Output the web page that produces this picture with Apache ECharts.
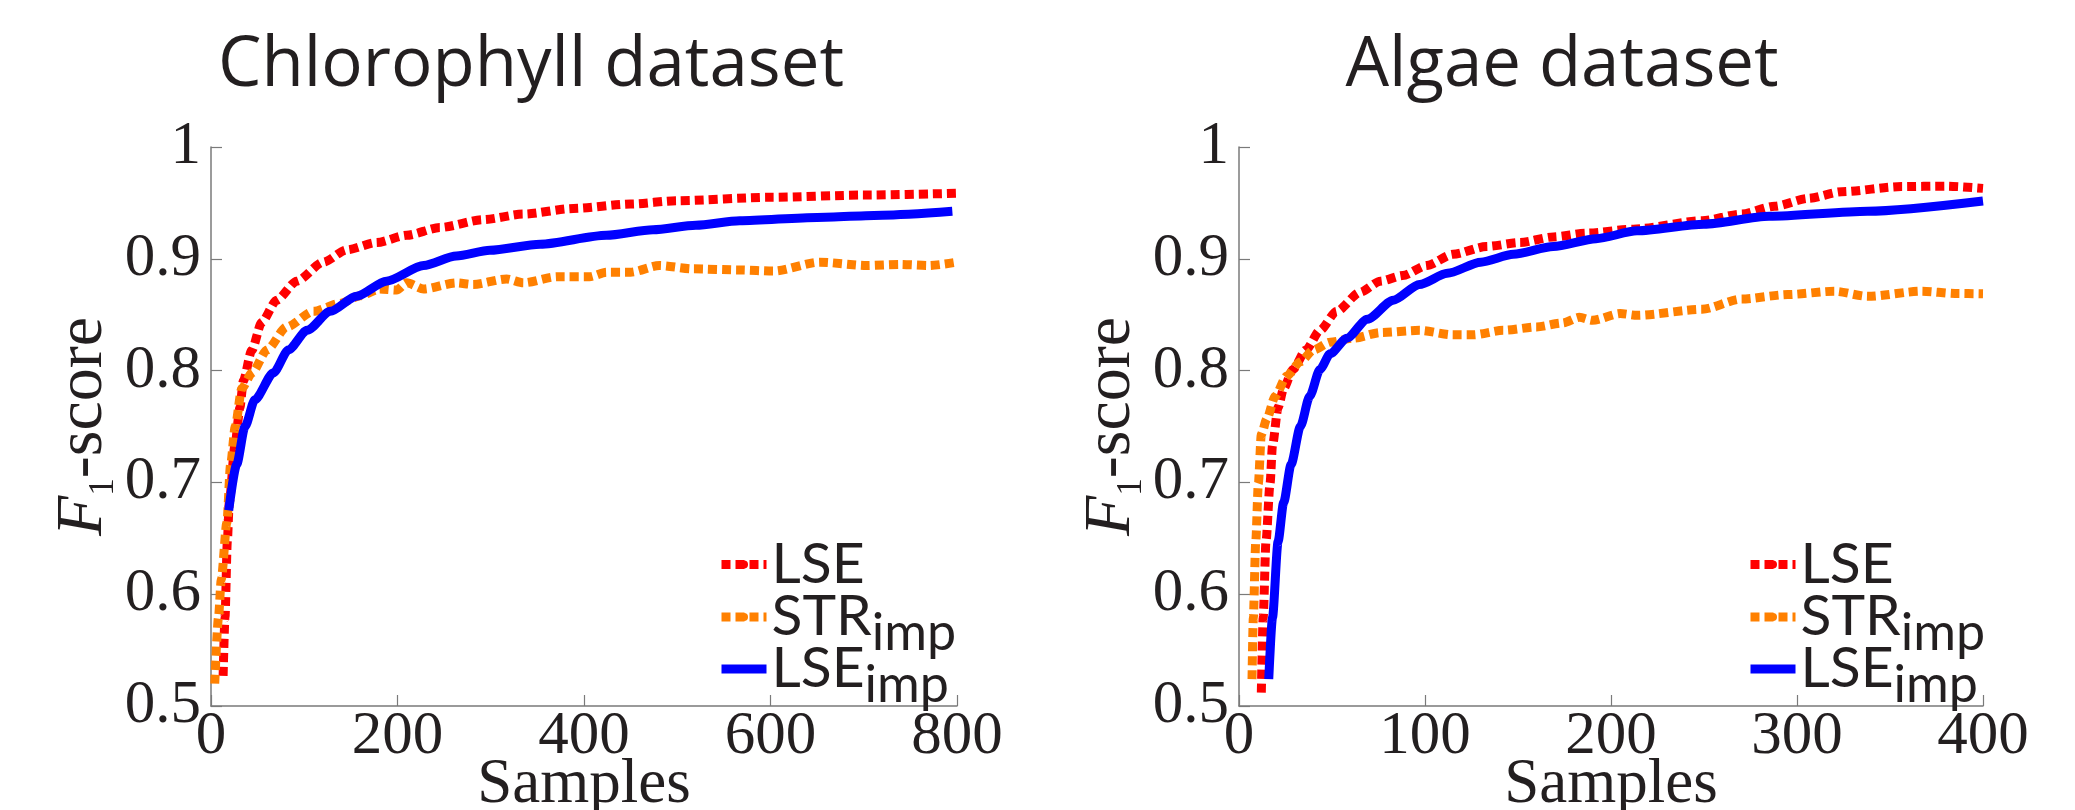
<!DOCTYPE html>
<html>
<head>
<meta charset="utf-8">
<script src="https://cdn.jsdelivr.net/npm/echarts@6/dist/echarts.min.js"></script>
<style>
html,body{margin:0;padding:0;background:#fff;}
#chart{width:2075px;height:810px;}
</style>
</head>
<body>
<div id="chart"></div>
<script>
// ---- Data ----
const titles = ['Chlorophyll dataset', 'Algae dataset'];
const seriesNames = ['LSE', 'STR_imp', 'LSE_imp'];
const yTicks = [0.5, 0.6, 0.7, 0.8, 0.9, 1];
const xTicksChl = [0, 200, 400, 600, 800];
const xTicksAlg = [0, 100, 200, 300, 400];

// Chlorophyll dataset: [samples, F1-score]
const chlLSE = [[13,0.527],[15,0.579],[17.5,0.647],[19.6,0.682],[25.7,0.733],[31,0.767],[34.7,0.791],[43.6,0.818],[54.3,0.843],[70.4,0.863],[91.9,0.880],[120.4,0.897],[145.5,0.908],[177.7,0.9145],[209.8,0.921],[245.6,0.928],[292,0.935],[335,0.940],[388.5,0.945],[450,0.949],[500,0.952],[600,0.955],[700,0.957],[800,0.9586]];
const chlSTR = [[4,0.52],[8,0.579],[11,0.613],[17,0.664],[21,0.716],[26,0.75],[33,0.784],[44,0.798],[60,0.8185],[81,0.839],[110,0.853],[138,0.86],[160,0.867],[181,0.873],[199,0.872],[210,0.8785],[228,0.873],[263,0.8785],[281,0.877],[317,0.882],[335,0.8785],[371,0.884],[406,0.884],[424,0.888],[450,0.888],[481,0.894],[517,0.891],[567,0.890],[603,0.889],[653,0.897],[703,0.894],[739,0.895],[770,0.894],[800,0.897]];
const chlLSEimp = [[19,0.675],[27.5,0.716],[36.5,0.75],[47,0.774],[67,0.798],[83,0.8185],[103,0.836],[128,0.853],[156,0.8665],[188,0.88],[228,0.894],[263,0.9025],[299,0.9076],[353,0.913],[424,0.921],[474,0.926],[520,0.930],[567,0.934],[650,0.937],[720,0.939],[795,0.9425]];

// Algae dataset: [samples, F1-score]
const algLSE = [[12,0.512],[13,0.579],[14.5,0.647],[16.7,0.699],[18,0.733],[21,0.767],[24,0.784],[29,0.801],[36,0.8185],[43.5,0.836],[52.5,0.853],[65,0.87],[76,0.88],[88,0.885],[101,0.894],[115,0.904],[133,0.911],[151,0.9145],[169,0.9196],[187,0.923],[212,0.9265],[249,0.934],[270,0.94],[288,0.947],[306,0.954],[324,0.96],[356,0.9646],[380,0.965],[400,0.963]];
const algSTR = [[7,0.524],[7.7,0.579],[9,0.647],[10.4,0.699],[12,0.743],[15,0.757],[19.4,0.777],[25.6,0.795],[33,0.808],[40,0.8185],[49,0.8254],[61.5,0.829],[76,0.834],[97,0.836],[115,0.832],[126,0.832],[142,0.836],[160,0.839],[174,0.8426],[183,0.8477],[190,0.845],[205,0.851],[214,0.8494],[249,0.8548],[270,0.864],[295,0.868],[320,0.871],[338,0.8664],[367,0.871],[385,0.869],[400,0.8687]];
const algLSEimp = [[16,0.524],[18,0.579],[21,0.647],[24,0.682],[28,0.716],[33,0.75],[38,0.777],[43.5,0.801],[49,0.815],[58,0.829],[69,0.846],[83,0.863],[97,0.877],[112,0.887],[130,0.897],[147.5,0.904],[169,0.911],[192,0.918],[214,0.925],[250,0.931],[285,0.938],[338,0.9425],[400,0.9517]];

// ---- Styles ----
const TXT = '#231f20';
const AXC = '#7a7a7a';
const SERIF = '"Liberation Serif", "DejaVu Serif", serif';
const colors = {LSE: '#ff0000', STR_imp: '#ff8000', LSE_imp: '#0000ff'};
const dash = [9, 5];

function mkSeries(name, data, idx) {
  const dotted = name !== 'LSE_imp';
  return {
    name: name, type: 'line', xAxisIndex: idx, yAxisIndex: idx,
    data: data, showSymbol: false, symbol: 'none',
    smooth: 0.25, smoothMonotone: 'x',
    lineStyle: {color: colors[name], width: 9, type: dotted ? dash : 'solid', cap: 'butt', join: 'round'},
    itemStyle: {color: colors[name]},
    z: 2 + seriesNames.indexOf(name)
  };
}

function xAxis(idx, ticks) {
  return {
    type: 'value', gridIndex: idx, min: ticks[0], max: ticks[ticks.length-1],
    interval: ticks[1]-ticks[0],
    name: 'Samples', nameLocation: 'middle', nameGap: 48, nameMoveOverlap: false,
    nameTextStyle: {fontFamily: SERIF, fontSize: 63, color: TXT},
    axisLine: {show: true, lineStyle: {color: AXC, width: 1.5}},
    axisTick: {show: true, inside: true, length: 11, lineStyle: {color: AXC, width: 1.2}},
    axisLabel: {fontFamily: SERIF, fontSize: 61, color: TXT, margin: 0, hideOverlap: false},
    splitLine: {show: false}
  };
}
function yAxis(idx) {
  return {
    type: 'value', gridIndex: idx, min: yTicks[0], max: yTicks[yTicks.length-1], interval: 0.1,
    name: '{f|F}{s|1}{t|-score}', nameLocation: 'middle', nameGap: 90, nameRotate: 90, nameMoveOverlap: false,
    nameTextStyle: {
      color: TXT,
      rich: {
        f: {fontFamily: SERIF, fontStyle: 'italic', fontSize: 66, lineHeight: 74, verticalAlign: 'middle', color: TXT},
        s: {fontFamily: SERIF, fontSize: 35, lineHeight: 34, verticalAlign: 'bottom', color: TXT},
        t: {fontFamily: SERIF, fontSize: 66, lineHeight: 74, verticalAlign: 'middle', color: TXT}
      }
    },
    axisLine: {show: true, lineStyle: {color: AXC, width: 1.5}},
    axisTick: {show: true, inside: true, length: 11, lineStyle: {color: AXC, width: 1.2}},
    axisLabel: {fontFamily: SERIF, fontSize: 61, color: TXT, margin: 10, hideOverlap: false,
      formatter: function (v) { return String(Math.round(v * 10) / 10); }},
    splitLine: {show: false}
  };
}
// one legend component per row, so each row sits exactly where it should
const legendRowTop = {LSE: 536, STR_imp: 575, LSE_imp: 627};
function legendRow(left, name) {
  return {
    orient: 'vertical', left: left, top: legendRowTop[name], padding: 0,
    itemWidth: 45, itemHeight: 10, itemGap: 0,
    selectedMode: false,
    data: [name],
    lineStyle: {width: 9},
    formatter: function (n) {
      if (n === 'LSE') return '{a|LSE}';
      const p = n.split('_');
      return '{a|' + p[0] + '}{b|' + p[1] + '}';
    },
    textStyle: {
      color: TXT,
      rich: {
        a: {fontFamily: 'Lato', fontSize: 57, lineHeight: 58, color: TXT},
        b: {fontFamily: 'Lato', fontSize: 52, lineHeight: 58, padding: [32, 0, 0, 0], color: TXT}
      }
    }
  };
}

const chart = echarts.init(document.getElementById('chart'), null, {renderer: 'canvas'});
const legends = [];
seriesNames.forEach(function (n) { legends.push(legendRow(717, n)); legends.push(legendRow(1746, n)); });
chart.setOption({
  animation: false,
  backgroundColor: '#ffffff',
  title: [
    {text: titles[0], left: 526, top: 27, textAlign: 'center',
     textStyle: {fontFamily: '"Open Sans"', fontWeight: 'normal', fontSize: 69, color: TXT}},
    {text: titles[1], left: 1557, top: 27, textAlign: 'center',
     textStyle: {fontFamily: '"Open Sans"', fontWeight: 'normal', fontSize: 69, color: TXT}}
  ],
  grid: [
    {left: 211, top: 147, width: 746, height: 559, containLabel: false, outerBoundsMode: 'none'},
    {left: 1239, top: 147, width: 744, height: 559, containLabel: false, outerBoundsMode: 'none'}
  ],
  xAxis: [xAxis(0, xTicksChl), xAxis(1, xTicksAlg)],
  yAxis: [yAxis(0), yAxis(1)],
  legend: legends,
  series: [
    mkSeries('LSE', chlLSE, 0), mkSeries('STR_imp', chlSTR, 0), mkSeries('LSE_imp', chlLSEimp, 0),
    mkSeries('LSE', algLSE, 1), mkSeries('STR_imp', algSTR, 1), mkSeries('LSE_imp', algLSEimp, 1)
  ]
});
</script>
</body>
</html>
